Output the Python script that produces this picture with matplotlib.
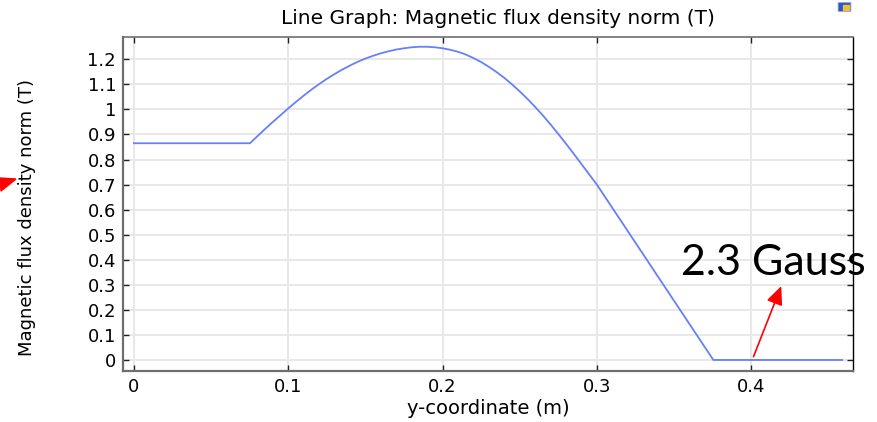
import numpy as np
import matplotlib
matplotlib.use("Agg")
import matplotlib.pyplot as plt
from matplotlib.patches import Polygon, FancyBboxPatch
from matplotlib.ticker import FormatStrFormatter

# B-norm along the y cut line (m, T)
y_coord = [0.0, 0.0752, 0.080, 0.085, 0.090, 0.095, 0.100, 0.105, 0.110,
           0.115, 0.120, 0.125, 0.130, 0.135, 0.140, 0.145, 0.150, 0.155,
           0.160, 0.165, 0.170, 0.175, 0.180, 0.185, 0.190, 0.195, 0.200,
           0.205, 0.210, 0.215, 0.220, 0.225, 0.230, 0.235, 0.240, 0.245,
           0.250, 0.255, 0.260, 0.265, 0.270, 0.275, 0.280, 0.285, 0.290,
           0.295, 0.300, 0.3755, 0.459]
b_norm = [0.865, 0.865, 0.893, 0.922, 0.950, 0.977, 1.004, 1.030, 1.055,
          1.079, 1.101, 1.122, 1.141, 1.159, 1.175, 1.190, 1.203, 1.214,
          1.224, 1.232, 1.239, 1.244, 1.248, 1.250, 1.250, 1.248, 1.244,
          1.238, 1.230, 1.219, 1.205, 1.189, 1.170, 1.149, 1.126, 1.100,
          1.072, 1.042, 1.010, 0.976, 0.940, 0.902, 0.863, 0.823, 0.782,
          0.741, 0.700, 0.0, 0.0]

x_ticks = [0, 0.1, 0.2, 0.3, 0.4]
y_ticks = [0, 0.1, 0.2, 0.3, 0.4, 0.5, 0.6, 0.7, 0.8, 0.9, 1.0, 1.1, 1.2]

note_text = "2.3 Gauss"
note_tail = (0.4015, 0.013)
note_head = (0.4195, 0.295)

W, H = 877, 422
fig = plt.figure(figsize=(W / 100, H / 100), dpi=100)
ax = fig.add_axes([123 / W, 1 - 371 / H, 730 / W, 334 / H])

ax.plot(y_coord, b_norm, color="#6680f7", lw=1.3)

ax.set_xlim(-0.0071, 0.466)
ax.set_ylim(-0.044, 1.289)
ax.set_xticks(x_ticks)
ax.set_yticks(y_ticks)
ax.xaxis.set_major_formatter(FormatStrFormatter("%g"))
ax.yaxis.set_major_formatter(FormatStrFormatter("%g"))
ax.grid(True, color="#e8e8e8", lw=1.4)
ax.set_axisbelow(True)
ax.tick_params(direction="in", length=4, width=1, labelsize=13, pad=5,
               top=True, right=True, colors="#222222", labelcolor="black")

for side in ["left", "bottom"]:
    ax.spines[side].set_color("#6e6e6e")
    ax.spines[side].set_linewidth(1.6)
ax.spines["top"].set_color("#6e6e6e")
ax.spines["top"].set_linewidth(1.2)
ax.spines["right"].set_color("black")
ax.spines["right"].set_linewidth(1.0)

fig.text(498 / W, 1 - 18 / H, "Line Graph: Magnetic flux density norm (T)",
         ha="center", va="center", fontsize=14.5)
fig.text(488 / W, 1 - 408 / H, "y-coordinate (m)", ha="center", va="center",
         fontsize=14)
fig.text(27 / W, 1 - 218 / H, "Magnetic flux density norm (T)", ha="center",
         va="center", rotation=90, fontsize=13)

# annotation for the field level past the magnet
ax.annotate("", xy=note_head, xytext=note_tail,
            arrowprops=dict(arrowstyle="-|>,head_length=0.45,head_width=0.2",
                            color="red", lw=1.2, mutation_scale=25,
                            shrinkA=0, shrinkB=0))
fig.text(681 / W, 1 - 275 / H, note_text, family="Lato", fontsize=31,
         ha="left", va="baseline")

# red arrow head near the axis label
fig.patches.append(Polygon([(0 / W, 1 - 178 / H), (16 / W, 1 - 179 / H),
                            (1 / W, 1 - 191 / H)], closed=True,
                           transform=fig.transFigure, color="red"))

# small window icon
fig.patches.append(FancyBboxPatch((839 / W, 1 - 11 / H), 11 / W, 8 / H,
                                  boxstyle="round,pad=0.001",
                                  transform=fig.transFigure,
                                  fc="#2a56c6", ec="#9aa7c6", lw=0.6))
fig.patches.append(Polygon([(843 / W, 1 - 5 / H), (849 / W, 1 - 5 / H),
                            (849 / W, 1 - 10 / H), (843 / W, 1 - 10 / H)],
                           closed=True, transform=fig.transFigure,
                           color="#e8c23a"))

fig.savefig("out.png", dpi=100)
